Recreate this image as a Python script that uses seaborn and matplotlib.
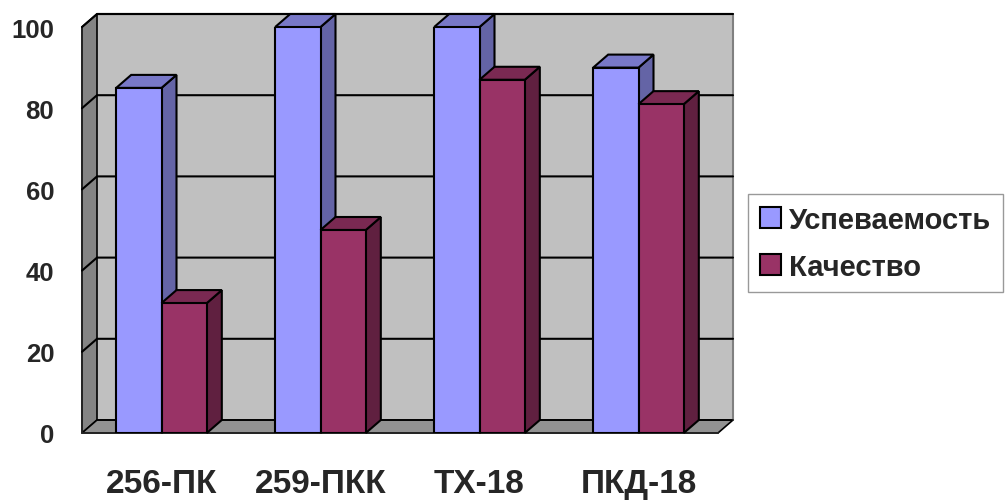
import pandas as pd
import matplotlib.pyplot as plt
import seaborn as sns
from matplotlib.patches import Polygon, Patch

# Chart data
groups = ["256-ПК", "259-ПКК", "ТХ-18", "ПКД-18"]
series = ["Успеваемость", "Качество"]
uspev = [85, 100, 100, 90]
kachestvo = [32, 50, 87, 81]

df = pd.DataFrame({
    "Группа": groups * 2,
    "Показатель": [series[0]] * 4 + [series[1]] * 4,
    "Значение": uspev + kachestvo,
})

front = {"Успеваемость": "#9999FF", "Качество": "#993366"}
side = {"Успеваемость": "#6464A6", "Качество": "#602040"}
top = {"Успеваемость": "#7878C8", "Качество": "#7A2952"}

sns.set_style("white")
plt.rcParams["font.family"] = ["Liberation Sans", "DejaVu Sans"]

fig = plt.figure(figsize=(10.07, 5.02), dpi=100)
ax = fig.add_axes([82 / 1007, 68 / 502, 636 / 1007, 406 / 502])

sns.barplot(data=df, x="Группа", y="Значение", hue="Показатель", order=groups,
            hue_order=series, palette=front, saturation=1, width=0.57, legend=False,
            edgecolor="black", linewidth=1.5, ax=ax)
ax.set_xlim(-0.5, 3.5)
ax.set_ylim(0, 100)

# depth offset of the 3D box, 15 px right and 13 px up
p0 = ax.transData.transform((0, 0))
p1 = ax.transData.transform((1, 100))
ddx = 15 / (p1[0] - p0[0])
ddy = 13 * 100 / (p1[1] - p0[1])

# walls and floor
ax.add_patch(Polygon([(-0.5 + ddx, ddy), (3.5 + ddx, ddy), (3.5 + ddx, 100 + ddy),
                      (-0.5 + ddx, 100 + ddy)], closed=True, facecolor="#C0C0C0",
                     edgecolor="none", zorder=0.5, clip_on=False))
ax.plot([-0.5 + ddx, 3.5 + ddx], [100 + ddy, 100 + ddy], color="black", lw=1.5,
        zorder=1, clip_on=False)
ax.plot([3.5 + ddx, 3.5 + ddx], [ddy, 100 + ddy], color="#808080", lw=1.5,
        zorder=1, clip_on=False)
ax.add_patch(Polygon([(-0.5, 0), (-0.5 + ddx, ddy), (-0.5 + ddx, 100 + ddy), (-0.5, 100)],
                     closed=True, facecolor="#848484", edgecolor="black", lw=1.2,
                     zorder=0.6, clip_on=False))
ax.add_patch(Polygon([(-0.5, 0), (3.5, 0), (3.5 + ddx, ddy), (-0.5 + ddx, ddy)],
                     closed=True, facecolor="#929292", edgecolor="black", lw=1.2,
                     zorder=0.6, clip_on=False))

yticks = [0, 20, 40, 60, 80, 100]
for v in yticks[1:]:
    ax.plot([-0.5, -0.5 + ddx, 3.5 + ddx], [v, v + ddy, v + ddy], color="black",
            lw=1.5, zorder=1, clip_on=False)
ax.plot([-0.5 + ddx, 3.5 + ddx], [ddy, ddy], color="black", lw=1.2, zorder=1,
        clip_on=False)

# 3D faces on each bar
for i, bar in enumerate(ax.patches[:8]):
    name = series[i // 4]
    z = 3 + i // 4
    bar.set_zorder(z + 0.2)
    x, w, h = bar.get_x(), bar.get_width(), bar.get_height()
    ax.add_patch(Polygon([(x + w, 0), (x + w + ddx, ddy), (x + w + ddx, h + ddy), (x + w, h)],
                         closed=True, facecolor=side[name], edgecolor="black", lw=1.5,
                         zorder=z, clip_on=False))
    ax.add_patch(Polygon([(x, h), (x + w, h), (x + w + ddx, h + ddy), (x + ddx, h + ddy)],
                         closed=True, facecolor=top[name], edgecolor="black", lw=1.5,
                         zorder=z + 0.1, clip_on=False))

sns.despine(ax=ax, top=True, right=True)
ax.spines["left"].set_linewidth(1.2)
ax.spines["bottom"].set_linewidth(1.2)
ax.spines["left"].set_zorder(0.7)
ax.spines["bottom"].set_zorder(0.7)

ax.set_yticks(yticks)
ax.set_yticklabels([str(v) for v in yticks], fontsize=18.5, fontweight="bold")
ax.tick_params(axis="y", direction="out", length=6, width=1, color="#555555", pad=14)
ax.set_xticks(range(4))
ax.set_xticklabels(groups, fontsize=24, fontweight="bold")
ax.set_xticks([-0.5, 0.5, 1.5, 2.5, 3.5], minor=True)
ax.tick_params(axis="x", which="major", length=0, pad=25)
ax.tick_params(axis="x", which="minor", direction="out", length=9, width=1, color="#555555")
ax.set_xlabel("")
ax.set_ylabel("")

handles = [Patch(facecolor=front[s], edgecolor="black", lw=1.5, label=s) for s in series]
leg = fig.legend(handles=handles, loc="upper left", bbox_to_anchor=(748 / 1007, 1 - 195 / 502),
                 prop={"size": 21, "weight": "bold"},
                 frameon=True, fancybox=False,
                 edgecolor="#808080", handlelength=0.72, handleheight=0.72,
                 handletextpad=0.3, borderpad=0.4, labelspacing=0.65, borderaxespad=0)

fig.savefig("out.png", dpi=100)
